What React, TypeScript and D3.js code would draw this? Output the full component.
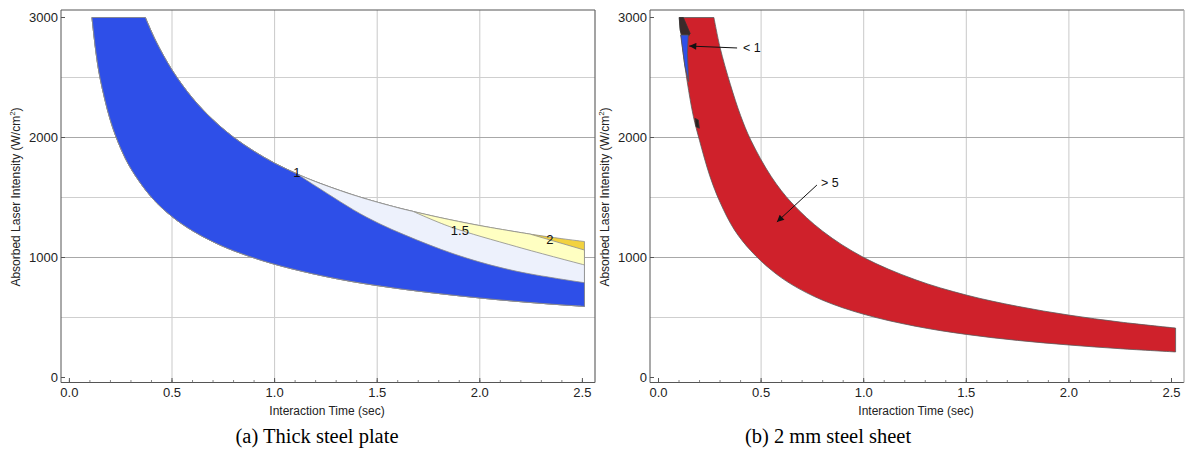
import React from "react";
import * as d3 from "d3";

type P = [number, number];

// ---------- shared axes ----------
const xTicks = [0, 0.5, 1.0, 1.5, 2.0, 2.5];
const xMinorTicks = d3.range(0, 2.51, 0.1);
const yTicks = [0, 1000, 2000, 3000];
const xGrid = [0.5, 1.0, 1.5, 2.0];
const yGrid = [500, 1000, 1500, 2000, 2500];
const xTitle = "Interaction Time (sec)";
const yTitle = "Absorbed Laser Intensity (W/cm";

// ---------- (a) thick steel plate ----------
const thickUpper: P[] = [
  [0.37, 3000], [0.42, 2808], [0.5, 2563], [0.6, 2328], [0.7, 2147], [0.8, 2002],
  [0.9, 1885], [1.0, 1786], [1.11, 1696], [1.2, 1632], [1.4, 1512], [1.6, 1415],
  [1.675, 1384], [1.8, 1335], [2.0, 1266], [2.245, 1195], [2.4, 1157], [2.51, 1133],
];
const thickLower: P[] = [
  [0.11, 3000], [0.13, 2704], [0.15, 2492], [0.2, 2142], [0.25, 1910], [0.3, 1740],
  [0.4, 1502], [0.5, 1341], [0.6, 1223], [0.7, 1131], [0.8, 1057], [1.0, 944],
  [1.3, 824], [1.6, 742], [2.0, 663], [2.3, 618], [2.51, 593],
];
const blueTopEdge: P[] = [[1.11, 1696], [1.205, 1590], [1.449, 1335], [1.692, 1147], [1.936, 995], [2.18, 885], [2.51, 790]];
const lightTopEdge: P[] = [[1.675, 1384], [1.854, 1257], [2.18, 1090], [2.51, 938]];
const yellowTopEdge: P[] = [[2.245, 1195], [2.51, 1062]];
const thickLabels = ["1", "1.5", "2"];
const thickLabelPos: P[] = [[1.109, 1710], [1.903, 1229], [2.342, 1154]];

// ---------- (b) 2 mm steel sheet ----------
const sheetUpper: P[] = [
  [0.27, 3000], [0.3, 2750], [0.35, 2443], [0.4, 2183], [0.45, 1978], [0.55, 1673],
  [0.65, 1454], [0.8, 1219], [1.0, 1000], [1.25, 816], [1.5, 687], [1.75, 593],
  [2.0, 520], [2.25, 462], [2.52, 412],
];
const sheetLower: P[] = [
  [0.101, 3000], [0.12, 2708], [0.14, 2464], [0.17, 2176], [0.2, 1975], [0.25, 1680],
  [0.3, 1460], [0.37, 1230], [0.45, 1056], [0.55, 895], [0.65, 774], [0.8, 644],
  [1.0, 527], [1.25, 428], [1.5, 359], [1.75, 309], [2.0, 271], [2.25, 240], [2.52, 213],
];
const sheetDarkTop: P[] = [[0.101, 3000], [0.121, 3000], [0.154, 2868], [0.147, 2846], [0.113, 2854], [0.105, 2896]];
const sheetBlueSliver: P[] = [[0.108, 2854], [0.145, 2854], [0.141, 2700], [0.147, 2465], [0.128, 2600]];
const sheetDarkNotch: P[] = [[0.178, 2160], [0.194, 2146], [0.199, 2077], [0.183, 2090]];
const sheetNotes = ["< 1", "> 5"];
const sheetNoteText: P[] = [[0.412, 2754], [0.792, 1621]];
const sheetNoteTail: P[] = [[0.383, 2746], [0.772, 1604]];
const sheetNoteHead: P[] = [[0.150, 2762], [0.577, 1296]];

const captions = ["(a) Thick steel plate", "(b) 2 mm steel sheet"];

const SANS = "'Liberation Sans', Arial, Helvetica, sans-serif";

function Panel(props: {
  ox: number;
  xRange: [number, number];
  frameRight: number;
  rightFrameColor: string;
  layers: { segs: P[][]; fill: string; stroke: string; curve?: boolean }[];
  children?: (x: d3.ScaleLinear<number, number>, y: d3.ScaleLinear<number, number>) => React.ReactNode;
  id: string;
}) {
  const { ox, xRange, frameRight } = props;
  const x = d3.scaleLinear().domain([0, 2.5]).range(xRange);
  const y = d3.scaleLinear().domain([0, 3000]).range([377.5, 17.5]);
  const left = 61 + ox;
  const top = 10;
  const bottom = 382.5;
  const lineC = d3
    .line<P>()
    .x((d) => x(d[0]))
    .y((d) => y(d[1]))
    .curve(d3.curveCatmullRom.alpha(0.5));
  const lineL = d3
    .line<P>()
    .x((d) => x(d[0]))
    .y((d) => y(d[1]));
  const join = (segs: P[][], curve = true) =>
    segs
      .map((s, i) => {
        const p = (curve ? lineC(s) : lineL(s)) as string;
        return i === 0 ? p : "L" + p.slice(1);
      })
      .join("") + "Z";

  return (
    <g>
      <defs>
        <clipPath id={"clip" + props.id}>
          <rect x={left} y={top} width={frameRight - left} height={bottom - top} />
        </clipPath>
        <marker id={"arr" + props.id} viewBox="0 0 10 10" refX="10" refY="5" markerWidth="9" markerHeight="7"
          markerUnits="userSpaceOnUse" orient="auto">
          <path d="M0,0 L10,5 L0,10 Z" fill="#111" />
        </marker>
      </defs>
      {xGrid.map((t) => (
        <line key={"gx" + t} x1={x(t)} x2={x(t)} y1={top} y2={bottom} stroke="#c9c9c9" strokeWidth={1} />
      ))}
      {yGrid.map((v) => (
        <line key={"gy" + v} x1={left} x2={frameRight} y1={y(v)} y2={y(v)}
          stroke={v % 1000 === 0 ? "#a8a8a8" : "#cfcfcf"} strokeWidth={1} />
      ))}
      <g clipPath={`url(#clip${props.id})`}>
        {props.layers.map((L, i) => (
          <path key={i} d={join(L.segs, L.curve !== false)} fill={L.fill} stroke={L.stroke} strokeWidth={0.8}
            strokeLinejoin="round" />
        ))}
      </g>
      {props.children && props.children(x, y)}
      <line x1={left} x2={frameRight} y1={top} y2={top} stroke="#555" strokeWidth={1} />
      <line x1={left} x2={left} y1={top} y2={bottom} stroke="#555" strokeWidth={1} />
      <line x1={left} x2={frameRight} y1={bottom} y2={bottom} stroke="#555" strokeWidth={1} />
      <line x1={frameRight} x2={frameRight} y1={top} y2={bottom} stroke={props.rightFrameColor} strokeWidth={1.2} />
      {xMinorTicks.map((t, i) => (
        <line key={"mx" + i} x1={x(t)} x2={x(t)} y1={bottom} y2={bottom - 2.5} stroke="#666" strokeWidth={0.8} />
      ))}
      {xTicks.map((t) => (
        <g key={"tx" + t}>
          <line x1={x(t)} x2={x(t)} y1={bottom} y2={bottom - 4.5} stroke="#555" strokeWidth={1} />
          <text x={x(t)} y={397} textAnchor="middle" fontFamily={SANS} fontSize={13} fill="#222">
            {t.toFixed(1)}
          </text>
        </g>
      ))}
      {yTicks.map((v) => (
        <g key={"ty" + v}>
          <line x1={left} x2={left + 4} y1={y(v)} y2={y(v)} stroke="#555" strokeWidth={1} />
          <text x={left - 3} y={y(v) + 4.5} textAnchor="end" fontFamily={SANS} fontSize={13} fill="#222">
            {v}
          </text>
        </g>
      ))}
      <text x={(left + frameRight) / 2 - 1} y={415} textAnchor="middle" fontFamily={SANS} fontSize={12}
        fill="#222">
        {xTitle}
      </text>
      <text transform={`translate(${20 + ox},197) rotate(-90)`} textAnchor="middle" fontFamily={SANS} fontSize={12}
        fill="#222">
        {yTitle}
        <tspan fontSize={8} dy={-5}>2</tspan>
        <tspan dy={5}>)</tspan>
      </text>
    </g>
  );
}

export default function App() {
  const flatA: P[] = [[thickLower[0][0], 3000], [thickUpper[0][0], 3000]];
  const lowerRevA: P[] = thickLower.slice().reverse();
  const upTo = (t0: number) => thickUpper.filter((p) => p[0] < t0 - 1e-6);
  const closeA = (topEnd: P): P[] => [topEnd, thickLower[thickLower.length - 1]];
  const layerA = (edge: P[] | null, fill: string) => {
    const upperPart = edge ? [...upTo(edge[0][0]), edge[0]] : thickUpper;
    const segs: P[][] = [flatA, upperPart];
    if (edge) segs.push(edge);
    const end = edge ? edge[edge.length - 1] : thickUpper[thickUpper.length - 1];
    segs.push(closeA(end));
    segs.push(lowerRevA);
    return { segs, fill, stroke: "#8c8c8c" };
  };
  const layersA = [
    layerA(null, "#F2D23F"),
    layerA(yellowTopEdge, "#FFFFC2"),
    layerA(lightTopEdge, "#EDF1FC"),
    layerA(blueTopEdge, "#2E4FE8"),
  ];

  const flatB: P[] = [[sheetLower[0][0], 3000], [sheetUpper[0][0], 3000]];
  const layersB = [
    {
      segs: [
        flatB,
        sheetUpper,
        [sheetUpper[sheetUpper.length - 1], sheetLower[sheetLower.length - 1]],
        sheetLower.slice().reverse(),
      ],
      fill: "#CF212B",
      stroke: "#5a5a5a",
    },
    { segs: [sheetDarkTop], fill: "#3a2a2a", stroke: "#333", curve: false },
    { segs: [sheetBlueSliver], fill: "#2E4FE8", stroke: "#555", curve: false },
    { segs: [sheetDarkNotch], fill: "#2a2020", stroke: "#333", curve: false },
  ];

  return (
    <svg width={1186} height={457} style={{ position: "absolute", left: 0, top: 0, background: "#fff" }}>
      <rect width={1186} height={457} fill="#fff" />
      <Panel ox={0} xRange={[69.4, 582.4]} frameRight={595} rightFrameColor="#666" layers={layersA} id="a">
        {(x, y) =>
          thickLabels.map((s, i) => (
            <text key={s} x={x(thickLabelPos[i][0])} y={y(thickLabelPos[i][1]) + 5} textAnchor="middle"
              fontFamily={SANS} fontSize={13} fill="#111">
              {s}
            </text>
          ))
        }
      </Panel>
      <Panel ox={589} xRange={[658.5, 1171.5]} frameRight={1184} rightFrameColor="#aaa" layers={layersB} id="b">
        {(x, y) =>
          sheetNotes.map((s, i) => (
            <g key={s}>
              <line x1={x(sheetNoteTail[i][0])} y1={y(sheetNoteTail[i][1])} x2={x(sheetNoteHead[i][0])}
                y2={y(sheetNoteHead[i][1])} stroke="#111" strokeWidth={1} markerEnd="url(#arrb)" />
              <text x={x(sheetNoteText[i][0])} y={y(sheetNoteText[i][1]) + 4.5} fontFamily={SANS} fontSize={12.5}
                fill="#111">
                {s}
              </text>
            </g>
          ))
        }
      </Panel>
      {captions.map((c, i) => (
        <text key={c} x={i === 0 ? 317 : 828} y={443} textAnchor="middle"
          fontFamily="'Liberation Serif', 'Times New Roman', serif" fontSize={20.5} fill="#000">
          {c}
        </text>
      ))}
    </svg>
  );
}
